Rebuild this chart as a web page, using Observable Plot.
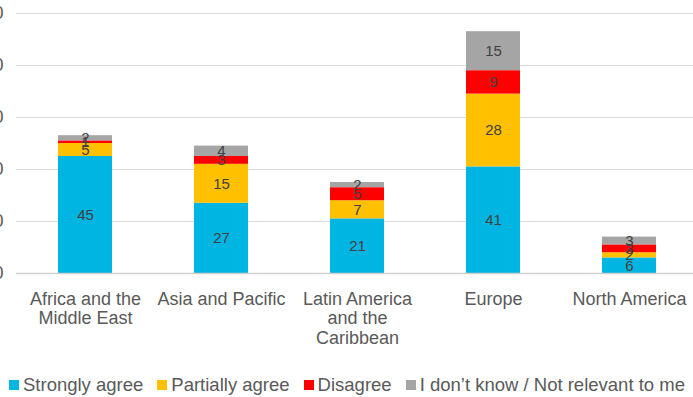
<!DOCTYPE html>
<html>
<head>
<meta charset="utf-8">
<script src="https://cdn.jsdelivr.net/npm/d3@7"></script>
<script src="https://cdn.jsdelivr.net/npm/@observablehq/plot@0.6"></script>
<style>
  html, body { margin: 0; padding: 0; background: #fff; overflow: hidden; }
  body { width: 693px; height: 397px; font-family: "Liberation Sans", Arial, sans-serif; }
  #chart svg { max-width: none; }
  .legend { display: flex; align-items: center; gap: 14px; padding-left: 9px; margin-top: 10px;
            font-size: 18.5px; line-height: 20px; color: #595959; white-space: nowrap; }
  .legend .item { display: flex; align-items: center; gap: 4px; }
  .legend .sw { width: 10px; height: 10px; display: inline-block; }
</style>
</head>
<body>
<div id="chart"></div>
<div class="legend" id="legend"></div>
<script>
// Regions on the x axis and their wrapped tick labels
const regions = ["Africa and the Middle East", "Asia and Pacific", "Latin America and the Caribbean", "Europe", "North America"];
const regionLabels = ["Africa and the\nMiddle East", "Asia and Pacific", "Latin America\nand the\nCaribbean", "Europe", "North America"];

// Answer categories, bottom to top of each stack
const answers = ["Strongly agree", "Partially agree", "Disagree", "I don’t know / Not relevant to me"];
const answerColors = ["#00B5E2", "#FFC000", "#FF0000", "#A5A5A5"];

// Counts per region for each answer
const stronglyAgree = [45, 27, 21, 41, 6];
const partiallyAgree = [5, 15, 7, 28, 2];
const disagree = [1, 3, 5, 9, 3];
const dontKnow = [2, 4, 2, 15, 3];

const yTicks = [0, 20, 40, 60, 80, 100];

const seriesValues = [stronglyAgree, partiallyAgree, disagree, dontKnow];
const rows = answers.flatMap((answer, i) =>
  regions.map((region, j) => ({region, answer, value: seriesValues[i][j]}))
);
const labelOf = new Map(regions.map((r, i) => [r, regionLabels[i]]));

const chart = Plot.plot({
  width: 700,
  height: 365,
  marginLeft: 16,
  marginRight: 1,
  marginTop: 13,
  marginBottom: 92,
  style: {fontFamily: "Liberation Sans, Arial, sans-serif", color: "#595959", background: "#fff"},
  x: {domain: regions, paddingInner: 0.6, paddingOuter: 0.3, label: null},
  y: {domain: [0, 100], label: null},
  color: {domain: answers, range: answerColors},
  marks: [
    Plot.gridY(yTicks, {stroke: "#d9d9d9", strokeOpacity: 1, strokeWidth: 1}),
    Plot.axisY(yTicks, {tickSize: 0, tickPadding: 13, fontSize: 18, fill: "#595959", label: null}),
    Plot.barY(rows, {x: "region", y: "value", fill: "answer", order: answers}),
    Plot.text(rows, Plot.stackY({x: "region", y: "value", z: "answer", order: answers,
      text: "value", fill: "#404040", fontSize: 15})),
    Plot.ruleY([0], {stroke: "#d0d0d0", strokeWidth: 1.5}),
    Plot.axisX({tickSize: 0, tickPadding: 17, fontSize: 18, lineHeight: 1.1, fill: "#595959",
      tickFormat: d => labelOf.get(d), label: null})
  ]
});
document.getElementById("chart").append(chart);

// Legend below the chart
const legend = document.getElementById("legend");
answers.forEach((a, i) => {
  const item = document.createElement("span");
  item.className = "item";
  const sw = document.createElement("span");
  sw.className = "sw";
  sw.style.background = answerColors[i];
  const label = document.createElement("span");
  label.textContent = a;
  item.append(sw, label);
  legend.append(item);
});
</script>
</body>
</html>
